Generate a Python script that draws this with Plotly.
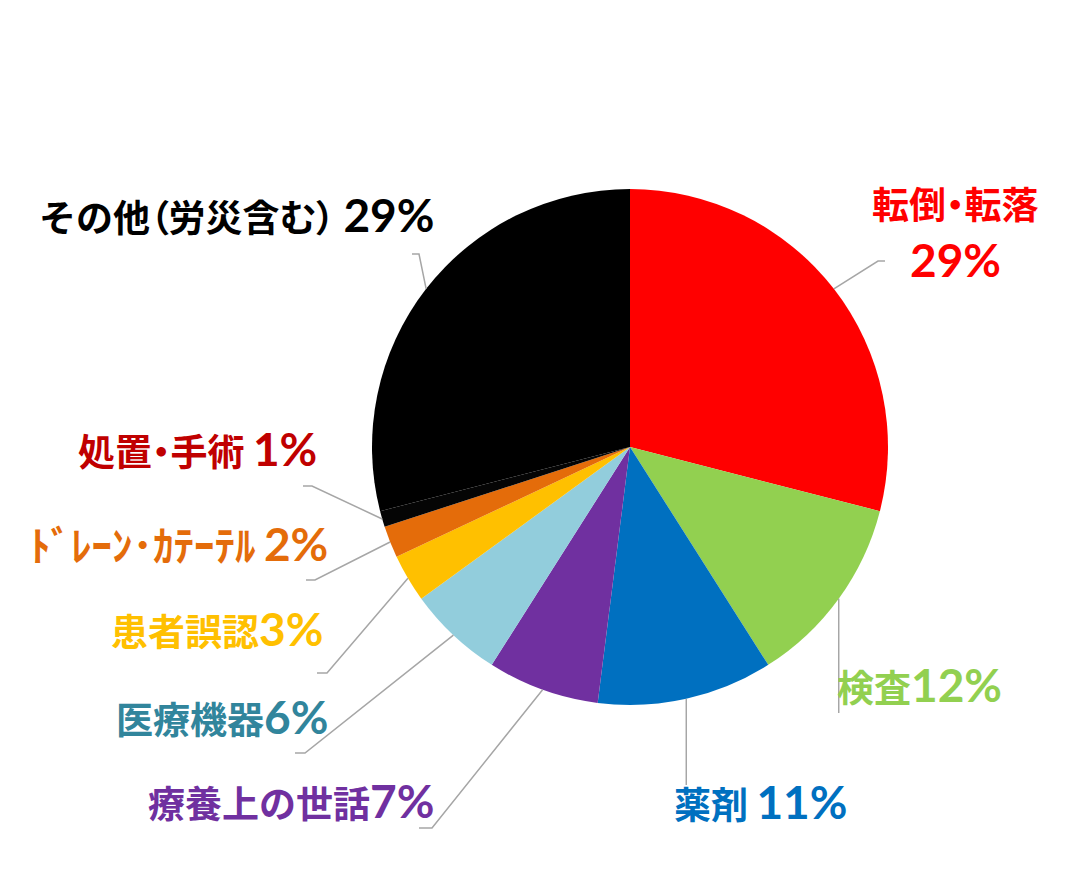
import plotly.graph_objects as go
import math

# ---------------- data ----------------
categories = ["転倒・転落", "検査", "薬剤", "療養上の世話", "医療機器",
              "患者誤認", "ﾄﾞﾚｰﾝ･ｶﾃｰﾃﾙ", "処置・手術", "その他（労災含む）"]
values = [29, 12, 11, 7, 6, 3, 2, 1, 29]
pct_text = ["29%", "12%", "11%", "7%", "6%", "3%", "2%", "1%", "29%"]

# ---------------- styles ----------------
slice_colors = ["#FF0000", "#92D050", "#0070C0", "#7030A0", "#92CDDC",
                "#FFC000", "#E46C0A", "#050505", "#000000"]
label_colors = ["#FF0000", "#92D050", "#0070C0", "#7030A0", "#31859C",
                "#FFC000", "#E46C0A", "#C00000", "#000000"]
name_sep = ["", "", " ", "", "", "", " ", " ", " "]
name_size = [37, 37, 37, 37, 37, 37, 41, 37, 37]

W, H = 1076, 894
OFF = 8  # page body margin in the browser
CX, CY, R = 630, 447, 258  # pie centre / radius in screen px

# label placement (screen px): x, y, anchor ; first one is split in two lines
label_pos = [(955, 203, "center"), (835, 685, "left"), (672, 802, "left"),
             (436, 801, "right"), (330, 717, "right"), (325, 629, "right"),
             (330, 543, "right"), (319, 449, "right"), (436, 215, "right")]
pct_pos_split = (955, 259)

# leader tails (screen px) after the slice edge point; None x = vertical
leader_tails = [[(878, 261), (885, 261)], [(None, 713)], [(None, 785)],
                [(432, 828), (419, 828)], [(305, 753), (295, 753)],
                [(327, 673), (317, 673)], [(315, 580), (306, 580)],
                [(312, 486), (303, 486)], [(419, 254), (412, 254)]]


def to_paper(x, y):
    return (x - OFF) / W, 1 - (y - OFF) / H


fig = go.Figure(go.Pie(
    labels=categories, values=values, sort=False, direction="clockwise",
    rotation=0, textinfo="none", hoverinfo="skip", showlegend=False,
    marker=dict(colors=slice_colors, line=dict(width=0)),
    domain=dict(x=[(CX - R - OFF) / W, (CX + R - OFF) / W],
                y=[1 - (CY + R - OFF) / H, 1 - (CY - R - OFF) / H]),
))

CJK = "Noto Sans CJK JP, sans-serif"
NUM_SIZE = 46
PUNCT = "・（）"


def name_markup(text, size):
    out = ""
    buf = ""
    for ch in text:
        if ch in PUNCT:
            if buf:
                out += f"<span style=\"font-size:{size}px\">{buf}</span>"
                buf = ""
            out += (f"<span style=\"font-size:{size}px;"
                    f"font-feature-settings:'palt'\">{ch}</span>")
        else:
            buf += ch
    if buf:
        out += f"<span style=\"font-size:{size}px\">{buf}</span>"
    return out


total = sum(values)
cum = 0.0
shapes = []
annotations = []
for i, v in enumerate(values):
    mid = (cum + v / 2) / total * 2 * math.pi
    cum += v
    sx = CX + R * math.sin(mid)
    sy = CY - R * math.cos(mid)
    pts = [(sx, sy)]
    for (tx, ty) in leader_tails[i]:
        pts.append((sx if tx is None else tx, ty))
    path = ""
    for k, (x, y) in enumerate(pts):
        px_, py_ = to_paper(x, y)
        path += ("M" if k == 0 else " L") + f" {px_:.5f} {py_:.5f}"
    shapes.append(dict(type="path", path=path, xref="paper", yref="paper",
                       line=dict(color="#A6A6A6", width=1.5)))

    x, y, anc = label_pos[i]
    name_html = name_markup(categories[i], name_size[i])
    pct_html = (f"<span style=\"font-family:Lato;font-size:{NUM_SIZE}px\">"
                f"{pct_text[i]}</span>")
    font = dict(family=CJK, size=37, color=label_colors[i], weight="bold")
    if i == 0:
        ax, ay = to_paper(x, y)
        annotations.append(dict(x=ax, y=ay, xref="paper", yref="paper",
                                text=name_html, showarrow=False,
                                xanchor="center", yanchor="middle", font=font))
        bx, by = to_paper(*pct_pos_split)
        annotations.append(dict(x=bx, y=by, xref="paper", yref="paper",
                                text=pct_html, showarrow=False,
                                xanchor="center", yanchor="middle", font=font))
    else:
        ax, ay = to_paper(x, y)
        annotations.append(dict(x=ax, y=ay, xref="paper", yref="paper",
                                text=name_html + name_sep[i] + pct_html,
                                showarrow=False, xanchor=anc, yanchor="middle",
                                font=font))

fig.update_layout(
    width=W, height=H, margin=dict(l=0, r=0, t=0, b=0),
    paper_bgcolor="white", plot_bgcolor="white",
    shapes=shapes, annotations=annotations,
)

fig.write_html("out.html")
